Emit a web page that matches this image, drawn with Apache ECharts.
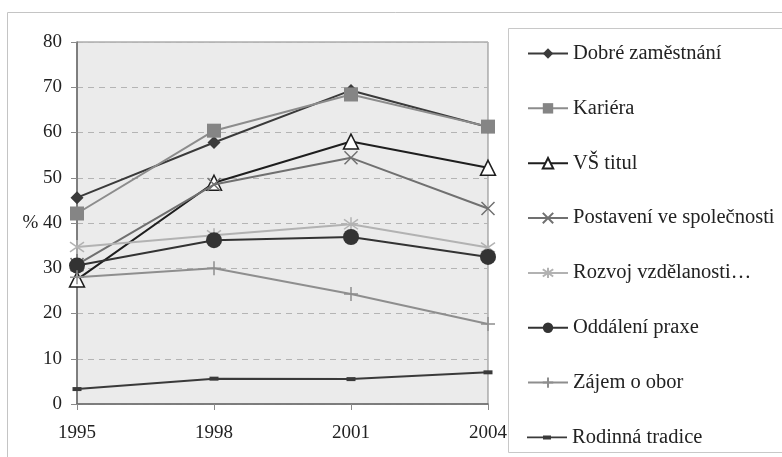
<!DOCTYPE html>
<html>
<head>
<meta charset="utf-8">
<script src="https://cdn.jsdelivr.net/npm/echarts@6/dist/echarts.min.js"></script>
<style>
  html, body { margin: 0; padding: 0; background: #fff; }
  #main { width: 782px; height: 457px; }
</style>
</head>
<body>
<div id="main"></div>
<script>
// roky
var years = ["1995", "1998", "2001", "2004"];
var yTicks = [0, 10, 20, 30, 40, 50, 60, 70, 80];

var names = [
  "Dobré zaměstnání",
  "Kariéra",
  "VŠ titul",
  "Postavení ve společnosti",
  "Rozvoj vzdělanosti…",
  "Oddálení praxe",
  "Zájem o obor",
  "Rodinná tradice"
];

var dobreZamestnani = [45.6, 57.8, 69.3, 61.2];
var kariera = [42.1, 60.4, 68.4, 61.3];
var vsTitul = [27.5, 48.9, 58.0, 52.2];
var postaveni = [30.8, 48.5, 54.4, 43.2];
var rozvoj = [34.7, 37.3, 39.7, 34.6];
var oddaleni = [30.6, 36.2, 36.9, 32.5];
var zajem = [28.0, 30.0, 24.3, 17.7];
var rodinna = [3.3, 5.6, 5.5, 7.0];

var values = [dobreZamestnani, kariera, vsTitul, postaveni, rozvoj, oddaleni, zajem, rodinna];

var FONT = "Liberation Serif";
var xMark = "path://M0,0L10,10M10,0L0,10";
var starMark = "path://M5,0L5,10M1.5,1.5L8.5,8.5M8.5,1.5L1.5,8.5";
var plusMark = "path://M5,0L5,10M0,5L10,5";
// ikonka do legendy pro rodinnou tradici (čára + čárka)
var dashIcon = "path://M0,5.6L40,5.6L40,7.4L0,7.4Z M16,4.5L24,4.5L24,8.5L16,8.5Z";

// vzhled jednotlivých řad
var looks = [
  { line: "#3a3a3a", symbol: "diamond", size: 13, fill: "#3a3a3a" },
  { line: "#8c8c8c", symbol: "rect", size: 14, fill: "#858585" },
  { line: "#1e1e1e", symbol: "triangle", size: 15, fill: "#ffffff", border: "#1e1e1e", bw: 1.5 },
  { line: "#707070", symbol: xMark, size: 13, fill: "transparent", border: "#707070", bw: 1.5 },
  { line: "#b2b2b2", symbol: starMark, size: 14, fill: "transparent", border: "#b2b2b2", bw: 1.5 },
  { line: "#333333", symbol: "circle", size: 16, fill: "#333333" },
  { line: "#8e8e8e", symbol: plusMark, size: 14, fill: "transparent", border: "#8e8e8e", bw: 1.5 },
  { line: "#3a3a3a", symbol: "rect", size: [9, 4], fill: "#3a3a3a" }
];

var series = names.map(function (n, i) {
  var lk = looks[i];
  return {
    name: n,
    type: "line",
    data: values[i],
    symbol: lk.symbol,
    symbolSize: lk.size,
    showAllSymbol: true,
    lineStyle: { color: lk.line, width: 2 },
    itemStyle: {
      color: lk.fill,
      borderColor: lk.border || lk.fill,
      borderWidth: lk.bw || 0
    },
    emphasis: { disabled: true },
    z: 3 + i
  };
});

var legends = names.map(function (n, i) {
  var item = { name: n };
  if (i === names.length - 1) {
    item.icon = dashIcon;
    item.itemStyle = { color: "#3a3a3a", borderWidth: 0 };
  }
  return {
    data: [item],
    left: 527,
    top: 50 + i * 54.85 - 7,
    padding: 0,
    itemWidth: 40,
    itemHeight: 13,
    itemGap: 4,
    selectedMode: false,
    textStyle: { fontFamily: FONT, fontSize: 20.5, color: "#222" }
  };
});

var chart = echarts.init(document.getElementById("main"));
chart.setOption({
  animation: false,
  graphic: [
    {
      type: "rect",
      shape: { x: 7.5, y: 12.5, width: 800, height: 500 },
      style: { fill: "none", stroke: "#c4c4c4", lineWidth: 1 },
      z: -10
    },
    {
      type: "rect",
      shape: { x: 508.5, y: 28.5, width: 300, height: 424 },
      style: { fill: "#fff", stroke: "#c8c8c8", lineWidth: 1 },
      z: -5
    }
  ],
  grid: {
    left: 77,
    top: 42,
    right: 294,
    bottom: 53,
    show: true,
    backgroundColor: "#ebebeb",
    borderColor: "#858585",
    borderWidth: 1
  },
  legend: legends,
  xAxis: {
    type: "category",
    data: years,
    boundaryGap: false,
    axisLine: { lineStyle: { color: "#6a6a6a", width: 1.5 } },
    axisTick: { show: true, length: 6, lineStyle: { color: "#8a8a8a" } },
    axisLabel: { fontFamily: FONT, fontSize: 19, color: "#222", margin: 20 }
  },
  yAxis: {
    type: "value",
    min: yTicks[0],
    max: yTicks[yTicks.length - 1],
    interval: 10,
    axisLine: { show: true, lineStyle: { color: "#6a6a6a", width: 1.5 } },
    axisTick: { show: true, length: 6, lineStyle: { color: "#8a8a8a" } },
    axisLabel: {
      fontFamily: FONT,
      fontSize: 19,
      color: "#222",
      margin: 15,
      formatter: function (v) { return v === 40 ? "% 40" : String(v); }
    },
    splitLine: { show: true, lineStyle: { color: "#b4b4b4", type: [6, 5], width: 1 } }
  },
  series: series
});
</script>
</body>
</html>
